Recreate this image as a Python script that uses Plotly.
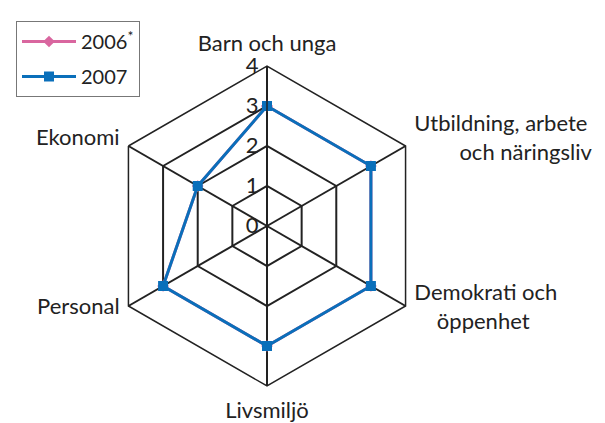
"""
Radar chart: Barn och unga etc, 2006 vs 2007
"""

import plotly.graph_objects as go

CATEGORIES = ['Barn och unga',
              ' <br>Utbildning, arbete<br>        och näringsliv',
              'Demokrati och<br>    öppenhet<br> <br> <br> ',
              'Livsmiljö',
              'Personal<br> <br> ',
              'Ekonomi']
VALUES_2006 = [3, 3, 3, 3, 3, 2]
VALUES_2007 = [3, 3, 3, 3, 3, 2]
RADIAL_TICKS = [0, 1, 2, 3, 4]

FONT = 'Lato'
INK = '#222'

# close the loop
cats = CATEGORIES + CATEGORIES[:1]

fig = go.Figure()
fig.add_trace(go.Scatterpolar(r=VALUES_2006 + VALUES_2006[:1], theta=cats,
                              name='2006<sup>*</sup>', mode='lines+markers',
                              legendgroup='a',
                              line=dict(color='#d9669f', width=3),
                              marker=dict(symbol='diamond', size=9, color='#d9669f')))
fig.add_trace(go.Scatterpolar(r=VALUES_2007 + VALUES_2007[:1], theta=cats,
                              name='2007', mode='lines+markers',
                              legendgroup='b',
                              line=dict(color='#0a6fba', width=3),
                              marker=dict(symbol='square', size=10, color='#0a6fba')))

W, H = 605, 423
# wanted centre (267, 225); plotly drew it offset by (+8, +7)
cx, cy, rad = 259, 218, 160

fig.update_layout(
    width=W, height=H,
    margin=dict(l=0, r=0, t=0, b=0),
    paper_bgcolor='white',
    font=dict(family=FONT, size=22, color=INK),
    polar=dict(
        domain=dict(x=[(cx - rad) / W, (cx + rad) / W],
                    y=[1 - (cy + rad) / H, 1 - (cy - rad) / H]),
        bgcolor='white',
        gridshape='linear',
        radialaxis=dict(range=[0, 4], tickvals=RADIAL_TICKS, angle=90,
                        side='counterclockwise', showline=True,
                        linecolor=INK, linewidth=1.5,
                        gridcolor=INK, gridwidth=1.5,
                        ticks='', tickfont=dict(size=22, color=INK),
                        tickangle=90),
        angularaxis=dict(rotation=90, direction='clockwise',
                         linecolor=INK, linewidth=1.5,
                         gridcolor=INK, gridwidth=1.5,
                         ticks='outside', ticklen=5, tickcolor='rgba(0,0,0,0)',
                         tickfont=dict(size=22, color=INK)),
    ),
    legend=dict(x=8 / W, y=1 - 13 / H, xanchor='left', yanchor='top',
                bordercolor='#777', borderwidth=1, bgcolor='white',
                font=dict(size=20, color=INK),
                tracegroupgap=6, itemwidth=54),
)

fig.write_html("out.html")
